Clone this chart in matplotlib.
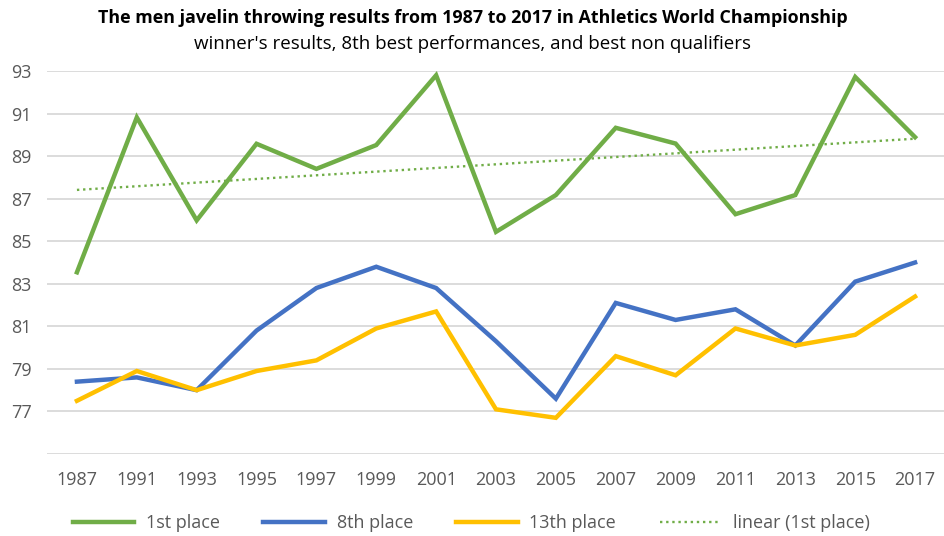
import matplotlib

matplotlib.use("Agg")
import matplotlib.pyplot as plt
import numpy as np

plt.rcParams["font.family"] = ["Open Sans", "DejaVu Sans"]

years = ["1987", "1991", "1993", "1995", "1997", "1999", "2001", "2003",
         "2005", "2007", "2009", "2011", "2013", "2015", "2017"]
first_place = [83.54, 90.82, 85.98, 89.58, 88.40, 89.52, 92.80, 85.44,
               87.17, 90.33, 89.59, 86.27, 87.17, 92.72, 89.89]
eighth_place = [78.4, 78.6, 78.0, 80.8, 82.8, 83.8, 82.8, 80.3,
                77.6, 82.1, 81.3, 81.8, 80.1, 83.1, 84.0]
thirteenth_place = [77.5, 78.9, 78.0, 78.9, 79.4, 80.9, 81.7, 77.1,
                    76.7, 79.6, 78.7, 80.9, 80.1, 80.6, 82.4]
y_ticks = [75, 77, 79, 81, 83, 85, 87, 89, 91, 93]

GREEN = "#70AD47"
BLUE = "#4472C4"
GOLD = "#FFC000"
GRID = "#D9D9D9"
TEXT = "#595959"

x = np.arange(len(years))
# least-squares trend of the winners' marks
slope, intercept = np.polyfit(x, first_place, 1)
trend = slope * x + intercept

fig = plt.figure(figsize=(9.45, 5.36), dpi=100)
ax = fig.add_axes([47 / 945, 1 - 454 / 536, 898 / 945, (454 - 71) / 536])

ax.plot(x, first_place, color=GREEN, lw=3.2, solid_joinstyle="miter",
        label="1st place", zorder=3)
ax.plot(x, eighth_place, color=BLUE, lw=3.2, solid_joinstyle="miter",
        label="8th place", zorder=3)
ax.plot(x, thirteenth_place, color=GOLD, lw=3.2, solid_joinstyle="miter",
        label="13th place", zorder=3)
ax.plot(x, trend, color=GREEN, lw=1.7, linestyle=(0, (1, 1.6)),
        label="linear (1st place)", zorder=2)

ax.set_xlim(-0.5, len(years) - 0.5)
ax.set_ylim(75, 93)
ax.set_yticks(y_ticks)
ax.set_yticklabels([""] + [str(v) for v in y_ticks[1:]])
ax.set_xticks(x)
ax.set_xticklabels(years)
ax.grid(axis="y", color=GRID, lw=1.3)
ax.set_axisbelow(True)
for side in ("top", "right", "left", "bottom"):
    ax.spines[side].set_visible(False)
ax.tick_params(length=0, labelsize=13, labelcolor=TEXT)
ax.tick_params(axis="y", pad=11)
ax.tick_params(axis="x", pad=12)

fig.text(0.5, 1 - 18 / 536, "The men javelin throwing results from 1987 to 2017 "
         "in Athletics World Championship", ha="center", va="center",
         fontsize=12.9, fontweight="bold", color="black")
fig.text(0.5, 1 - 44 / 536, "winner's results, 8th best performances, "
         "and best non qualifiers", ha="center", va="center",
         fontsize=13.5, color="black")

fig.legend(loc="center left", bbox_to_anchor=(73 / 945, 1 - 523 / 536),
           ncol=4, frameon=False, fontsize=13, labelcolor=TEXT,
           handlelength=3.4, columnspacing=2.4, handletextpad=0.65,
           borderpad=0, borderaxespad=0)

fig.savefig("out.png", dpi=100, facecolor="white")
